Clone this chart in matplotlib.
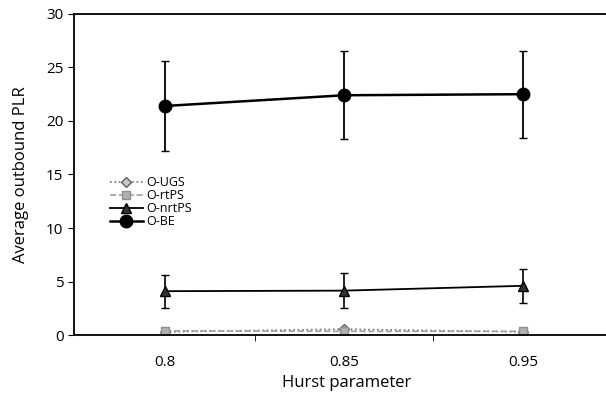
import matplotlib.pyplot as plt
from matplotlib.lines import Line2D

hurst = ["0.8", "0.85", "0.95"]

# valores
ugs = [0.3, 0.55, 0.3]
ugs_err = [0.2, 0.2, 0.2]
rtps = [0.4, 0.35, 0.35]
rtps_err = [0.25, 0.25, 0.25]
nrtps = [4.1, 4.15, 4.6]
nrtps_err = [1.55, 1.65, 1.6]
be = [21.4, 22.4, 22.5]
be_err = [4.2, 4.1, 4.05]

plt.rcParams["font.family"] = ["Open Sans", "DejaVu Sans"]

fig = plt.figure(figsize=(6.06, 3.97), dpi=100)
ax = fig.add_axes([0.122, 0.156, 0.9, 0.809])

x = list(range(len(hurst)))

estilos = [
    dict(color="#707070", ls=":", lw=1.2, marker="D", ms=5, mfc="#c8c8c8", mec="#606060"),
    dict(color="#a0a0a0", ls="--", lw=1.2, marker="s", ms=6, mfc="#b0b0b0", mec="#909090"),
    dict(color="black", ls="-", lw=1.3, marker="^", ms=7, mfc="#333333", mec="black"),
    dict(color="black", ls="-", lw=1.8, marker="o", ms=9),
]
nomes = ["O-UGS", "O-rtPS", "O-nrtPS", "O-BE"]

ax.errorbar(x, ugs, yerr=ugs_err, capsize=3, **estilos[0])
ax.errorbar(x, rtps, yerr=rtps_err, capsize=3, **estilos[1])
ax.errorbar(x, nrtps, yerr=nrtps_err, capsize=3, elinewidth=1.2, **estilos[2])
ax.errorbar(x, be, yerr=be_err, capsize=3, elinewidth=1.3, **estilos[3])

ax.set_xlim(-0.51, 2.54)
ax.set_ylim(0, 30)
ax.set_yticks([0, 5, 10, 15, 20, 25, 30])
ax.set_xticks(x)
ax.set_xticklabels(hurst)
ax.set_xticks([0.5, 1.5], minor=True)
ax.tick_params(axis="x", which="major", length=0, labelsize=11, pad=14)
ax.tick_params(axis="x", which="minor", length=4, direction="out")
ax.tick_params(axis="y", length=4, labelsize=11)

ax.spines["right"].set_visible(False)
for s in ["left", "bottom", "top"]:
    ax.spines[s].set_linewidth(1.3)

ax.set_xlabel("Hurst parameter", fontsize=12)
ax.set_ylabel("Average outbound PLR", fontsize=12, labelpad=12)

handles = [Line2D([], [], **e) for e in estilos]
ax.legend(handles, nomes, loc="upper left", bbox_to_anchor=(0.055, 0.515), frameon=False,
          fontsize=9, handlelength=2.6, labelspacing=0.0, borderpad=0,
          handletextpad=0.3)

plt.savefig("out.png", dpi=100)
